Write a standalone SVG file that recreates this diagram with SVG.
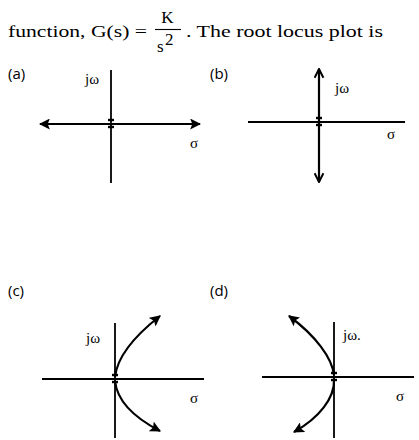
<svg xmlns="http://www.w3.org/2000/svg" width="419" height="440" viewBox="0 0 419 440">
<defs>
<style>
.t{font-family:"Liberation Serif","DejaVu Serif",serif;font-size:17px;fill:#000}
.lab{font-family:"Open Sans","Liberation Sans",sans-serif;font-size:15px;fill:#000}
.sm{font-family:"Liberation Serif","DejaVu Serif",serif;font-size:15px;fill:#000}
.ax{stroke:#000;stroke-width:1.8;fill:none}
.lc{stroke:#000;stroke-width:2.2;fill:none}
.pole{stroke:#000;stroke-width:2.4}
</style>
<marker id="fa" viewBox="0 0 10 10" refX="9" refY="5" markerWidth="11" markerHeight="11" markerUnits="userSpaceOnUse" orient="auto-start-reverse">
<path d="M0,0 L10,5 L0,10 L2,5 Z" fill="#000"/>
</marker>
<marker id="oa" viewBox="0 0 10 10" refX="9" refY="5" markerWidth="11" markerHeight="11" markerUnits="userSpaceOnUse" orient="auto-start-reverse">
<path d="M1,1 L9,5 L1,9" fill="none" stroke="#000" stroke-width="1.8"/>
</marker>
</defs>
<rect width="419" height="440" fill="#fff"/>
<g id="header">
<text class="t" x="8" y="37" textLength="139" lengthAdjust="spacingAndGlyphs">function, G(s) =</text>
<text class="t" x="167.5" y="23" text-anchor="middle">K</text>
<line x1="155" y1="29.5" x2="181" y2="29.5" stroke="#000" stroke-width="1.1"/>
<text class="t" x="157" y="52">s</text>
<text class="t" x="165" y="45" font-size="12">2</text>
<text class="t" x="186" y="37" textLength="197" lengthAdjust="spacingAndGlyphs">. The root locus plot is</text>
</g>
<g id="connectors">
<line class="ax" x1="111" y1="70" x2="111" y2="183"/>
<line class="lc" x1="40" y1="124" x2="200" y2="124" marker-start="url(#fa)" marker-end="url(#fa)"/>
<line class="ax" x1="248" y1="122" x2="405" y2="122"/>
<line class="lc" x1="319" y1="69" x2="319" y2="182" marker-start="url(#oa)" marker-end="url(#oa)"/>
<line class="ax" x1="115" y1="323" x2="115" y2="438"/>
<line class="ax" x1="42" y1="379" x2="204" y2="379"/>
<path class="lc" d="M115,377 C117,358 132,338 160,316" marker-end="url(#fa)"/>
<path class="lc" d="M115,381 C117,400 133,417 160,431" marker-end="url(#fa)"/>
<line class="ax" x1="334" y1="322" x2="334" y2="438"/>
<line class="ax" x1="262" y1="377" x2="414" y2="377"/>
<path class="lc" d="M334,375 C332,358 316,336 289,316" marker-end="url(#fa)"/>
<path class="lc" d="M334,379 C335,398 319,418 294,432" marker-end="url(#fa)"/>
</g>
<g id="plot-a">
<text class="lab" x="8" y="79">(a)</text>
<text class="sm" x="85" y="84">jω</text>
<text class="sm" x="190" y="148">σ</text>
<line class="pole" x1="108" y1="120" x2="114" y2="120"/>
<line class="pole" x1="108" y1="127" x2="114" y2="127"/>
</g>
<g id="plot-b">
<text class="lab" x="210" y="79">(b)</text>
<text class="sm" x="335" y="93">jω</text>
<text class="sm" x="387" y="139">σ</text>
<line class="pole" x1="316" y1="118" x2="322" y2="118"/>
<line class="pole" x1="316" y1="125" x2="322" y2="125"/>
</g>
<g id="plot-c">
<text class="lab" x="8" y="296">(c)</text>
<text class="sm" x="86" y="343">jω</text>
<text class="sm" x="190" y="403">σ</text>
<line class="pole" x1="112" y1="375" x2="118" y2="375"/>
<line class="pole" x1="112" y1="382" x2="118" y2="382"/>
</g>
<g id="plot-d">
<text class="lab" x="210" y="296">(d)</text>
<text class="sm" x="343" y="340">jω.</text>
<text class="sm" x="396" y="401">σ</text>
<line class="pole" x1="331" y1="373" x2="337" y2="373"/>
<line class="pole" x1="331" y1="380" x2="337" y2="380"/>
</g>
</svg>
